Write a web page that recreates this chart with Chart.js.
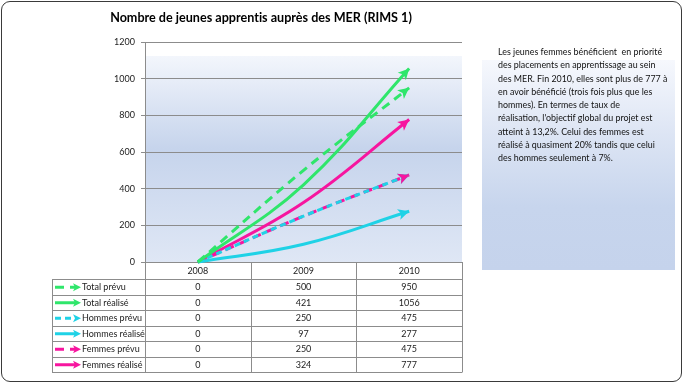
<!DOCTYPE html>
<html>
<head>
<meta charset="utf-8">
<script src="https://cdn.jsdelivr.net/npm/chart.js@4.4.1/dist/chart.umd.min.js"></script>
<style>
  html, body { margin: 0; padding: 0; background: #fff; }
  #wrap { position: relative; width: 684px; height: 385px; overflow: hidden; font-family: Lato, "Open Sans", sans-serif; }
  #cadre { position: absolute; left: 1px; top: 1px; width: 681px; height: 381px; box-sizing: border-box; border: 1px solid #3a3a3a; border-radius: 9px; }
  #encadre { position: absolute; left: 482px; top: 60px; width: 193px; height: 210px;
    background: linear-gradient(to bottom, #f6f8fd 0%, #dde5f4 35%, #c7d5ed 70%, #c5d3ec 100%); }
  #graf { position: absolute; left: 0; top: 0; }
  #titre { position: absolute; left: 0; top: 10px; width: 522px; text-align: center; font-weight: bold; font-size: 12.6px; color: #000; font-variant-ligatures: none; }
  #texte { position: absolute; left: 498px; top: 45px; font-size: 8.9px; line-height: 13.3px; color: #111; white-space: pre; }
</style>
</head>
<body>
<div id="wrap">
  <div id="cadre"></div>
  <div id="encadre"></div>
  <canvas id="graf" width="684" height="385"></canvas>
  <div id="titre">Nombre de jeunes apprentis auprès des MER (RIMS 1)</div>
  <div id="texte"></div>
</div>
<script>
// données
var annees = ["2008", "2009", "2010"];
var totalPrevu = [0, 500, 950];
var totalRealise = [0, 421, 1056];
var hommesPrevu = [0, 250, 475];
var hommesRealise = [0, 97, 277];
var femmesPrevu = [0, 250, 475];
var femmesRealise = [0, 324, 777];
var ticksY = [0, 200, 400, 600, 800, 1000, 1200];

var lignesTexte = [
  "Les jeunes femmes bénéficient  en priorité",
  "des placements en apprentissage au sein",
  "des MER. Fin 2010, elles sont plus de 777 à",
  "en avoir bénéficié (trois fois plus que les",
  "hommes). En termes de taux de",
  "réalisation, l'objectif global du projet est",
  "atteint à 13,2%. Celui des femmes est",
  "réalisé à quasiment 20% tandis que celui",
  "des hommes seulement à 7%."
];
document.getElementById('texte').textContent = lignesTexte.join("\n");

var vert = '#2fe66b';
var cyan = '#1fd2e6';
var rose = '#f7159f';

function serie(label, data, color, dash) {
  return {
    label: label,
    data: data,
    borderColor: color,
    backgroundColor: color,
    borderWidth: 3,
    borderDash: dash,
    tension: 0.4,
    pointRadius: 0,
    clip: false
  };
}

// pointe de flèche
function fleche(ctx, x, y, angle, color, taille) {
  ctx.save();
  ctx.translate(x, y);
  ctx.rotate(angle);
  ctx.fillStyle = color;
  ctx.beginPath();
  ctx.moveTo(0, 0);
  ctx.lineTo(-taille, -taille * 0.5);
  ctx.lineTo(-taille * 0.75, 0);
  ctx.lineTo(-taille, taille * 0.5);
  ctx.closePath();
  ctx.fill();
  ctx.restore();
}

var fondPlugin = {
  id: 'fond',
  beforeDraw: function (chart) {
    var a = chart.chartArea, ctx = chart.ctx;
    var top = a.top + 14;
    var g = ctx.createLinearGradient(0, top, 0, a.bottom);
    g.addColorStop(0, '#f3f6fc');
    g.addColorStop(0.45, '#c6d4ec');
    g.addColorStop(1, '#dfe7f5');
    ctx.save();
    ctx.fillStyle = g;
    ctx.fillRect(a.left, top, a.right - a.left, a.bottom - top);
    ctx.restore();
  }
};

var flechesPlugin = {
  id: 'fleches',
  afterDatasetsDraw: function (chart) {
    var ctx = chart.ctx;
    chart.data.datasets.forEach(function (ds, i) {
      var pts = chart.getDatasetMeta(i).data;
      var p = pts[pts.length - 1];
      var cx = p.cp1x !== undefined ? p.cp1x : pts[pts.length - 2].x;
      var cy = p.cp1y !== undefined ? p.cp1y : pts[pts.length - 2].y;
      var ang = Math.atan2(p.y - cy, p.x - cx);
      fleche(ctx, p.x, p.y, ang, ds.borderColor, 11);
    });
  }
};

// tableau de données sous le graphique
var tableauPlugin = {
  id: 'tableau',
  afterDraw: function (chart) {
    var ctx = chart.ctx, a = chart.chartArea, x = chart.scales.x;
    var w = (a.right - a.left) / annees.length;
    var gauche = 52, hautEntete = 17, hLigne = 15.5;
    var y0 = a.bottom, y1 = y0 + hautEntete;
    var ds = chart.data.datasets;
    var bas = y1 + hLigne * ds.length;
    ctx.save();
    ctx.strokeStyle = '#8c8c8c';
    ctx.lineWidth = 1;
    ctx.beginPath();
    for (var c = 0; c <= annees.length; c++) {
      var xc = Math.round(a.left + c * w) + 0.5;
      ctx.moveTo(xc, y0);
      ctx.lineTo(xc, bas);
    }
    ctx.moveTo(gauche + 0.5, y1);
    ctx.lineTo(gauche + 0.5, bas);
    for (var r = 0; r <= ds.length; r++) {
      var yr = Math.round(y1 + r * hLigne) + 0.5;
      ctx.moveTo(gauche, yr);
      ctx.lineTo(a.right + 0.5, yr);
    }
    ctx.stroke();

    ctx.fillStyle = '#222';
    ctx.font = '9px Lato';
    ctx.textAlign = 'center';
    ctx.textBaseline = 'middle';
    annees.forEach(function (an, i) {
      ctx.fillText(an, x.getPixelForValue(i), y0 + hautEntete / 2 + 0.5);
    });
    ds.forEach(function (d, r) {
      var yc = y1 + r * hLigne + hLigne / 2 + 0.5;
      d.data.forEach(function (v, i) {
        ctx.textAlign = 'center';
        ctx.fillText(String(v), x.getPixelForValue(i), yc);
      });
      // symbole de légende
      ctx.save();
      ctx.strokeStyle = d.borderColor;
      ctx.lineWidth = 3;
      ctx.setLineDash(d.borderDash || []);
      ctx.beginPath();
      ctx.moveTo(gauche + 3, yc);
      ctx.lineTo(gauche + 24, yc);
      ctx.stroke();
      ctx.restore();
      fleche(ctx, gauche + 29, yc, 0, d.borderColor, 8);
      ctx.fillStyle = '#222';
      ctx.textAlign = 'left';
      ctx.fillText(d.label, gauche + 30, yc);
    });
    ctx.restore();
  }
};

var chart = new Chart(document.getElementById('graf'), {
  type: 'line',
  data: {
    labels: annees,
    datasets: [
      serie('Total prévu', totalPrevu, vert, [9, 6]),
      serie('Total réalisé', totalRealise, vert, []),
      serie('Hommes prévu', hommesPrevu, cyan, [6, 4]),
      serie('Hommes réalisé', hommesRealise, cyan, []),
      serie('Femmes prévu', femmesPrevu, rose, [9, 6]),
      serie('Femmes réalisé', femmesRealise, rose, [])
    ]
  },
  options: {
    responsive: false,
    animation: false,
    layout: { padding: { left: 0, top: 42, right: 222, bottom: 123 } },
    plugins: {
      legend: { display: false },
      title: { display: false },
      tooltip: { enabled: false }
    },
    scales: {
      x: {
        display: false,
        offset: true
      },
      y: {
        min: 0,
        max: 1200,
        afterBuildTicks: function (s) { s.ticks = ticksY.map(function (v) { return { value: v }; }); },
        afterFit: function (s) { s.width = 145; },
        ticks: {
          padding: 6, color: '#222', font: { family: 'Lato', size: 9 },
          callback: function (v) { return String(v); }
        },
        grid: { color: '#8c8c8c', tickLength: 4 },
        border: { color: '#8c8c8c' }
      }
    }
  },
  plugins: [fondPlugin, flechesPlugin, tableauPlugin]
});
</script>
</body>
</html>
